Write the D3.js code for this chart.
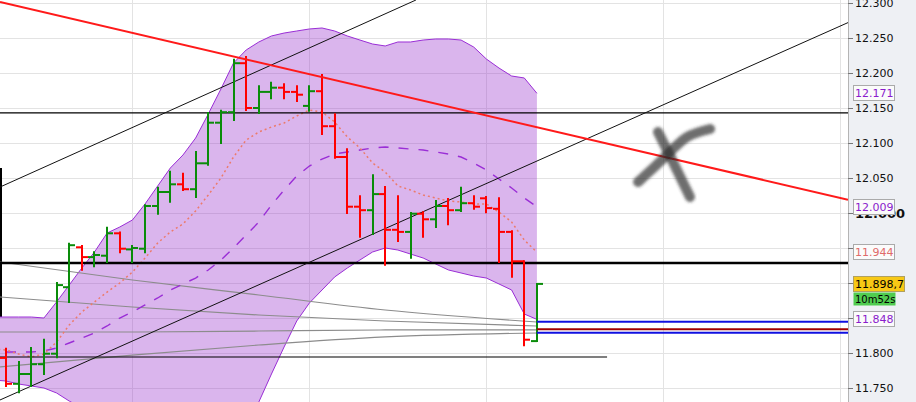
<!DOCTYPE html>
<html><head><meta charset="utf-8">
<script src="https://cdn.jsdelivr.net/npm/d3@7"></script>
<style>html,body{margin:0;padding:0;background:#fff;overflow:hidden}svg{display:block}</style>
</head><body>
<svg id="c" width="916" height="402"></svg>
<script>
// ---------- DATA ----------
const opens  = [11.793,11.756,11.770,11.784,11.799,11.894,11.951,11.937,11.939,11.971,11.948,11.949,12.010,12.030,12.041,12.034,12.071,12.129,12.144,12.214,12.150,12.173,12.179,12.173,12.153,12.174,12.124,12.080,12.009,12.004,12.027,11.976,11.973,11.999,11.991,12.010,12.004,12.014,12.021,12.006,11.973,11.931,11.817];
const highs  = [11.806,11.787,11.807,11.819,11.900,11.956,11.953,11.944,11.979,11.972,11.953,12.011,12.036,12.059,12.056,12.087,12.143,12.146,12.219,12.223,12.181,12.186,12.184,12.181,12.181,12.197,12.141,12.091,12.024,12.054,12.037,12.024,12.000,12.001,12.017,12.020,12.036,12.024,12.023,12.021,11.974,11.931,11.8987];
const lows   = [11.753,11.744,11.753,11.770,11.794,11.873,11.919,11.924,11.930,11.944,11.930,11.944,11.999,12.016,12.033,12.023,12.069,12.100,12.133,12.147,12.143,12.164,12.164,12.160,12.146,12.113,12.079,12.000,11.966,11.970,11.926,11.960,11.936,11.966,11.980,11.984,12.003,12.006,12.001,11.930,11.909,11.811,11.817];
const closes = [11.756,11.770,11.784,11.799,11.897,11.954,11.937,11.940,11.971,11.949,11.950,12.010,12.030,12.041,12.034,12.071,12.129,12.144,12.214,12.150,12.173,12.179,12.173,12.169,12.174,12.124,12.080,12.009,12.004,12.027,11.976,11.973,11.999,11.991,12.010,12.004,12.014,12.009,12.007,11.973,11.931,11.819,11.8987];

// indicator series start one bar earlier (bar index -1, off the left edge)
const indStart = -1;
const bandUpper = [11.8514,11.8514,11.8514,11.8514,11.85,11.8729,11.8971,11.9214,11.9443,11.9714,11.98,11.99,12.0129,12.0386,12.0643,12.0829,12.1071,12.1414,12.1771,12.2143,12.2329,12.2443,12.2529,12.2571,12.26,12.2629,12.2643,12.26,12.2529,12.2471,12.2414,12.2386,12.2443,12.2443,12.2471,12.2486,12.2486,12.2471,12.2371,12.22,12.2071,12.1957,12.1929,12.171];
const bandMid   = [11.8014,11.8014,11.8014,11.8014,11.8029,11.8071,11.8143,11.8214,11.8286,11.8386,11.85,11.8586,11.8686,11.8786,11.89,11.8986,11.9071,11.9186,11.9329,11.95,11.9686,11.9871,12.0114,12.0329,12.0529,12.0671,12.0771,12.0843,12.0871,12.09,12.0929,12.0943,12.0929,12.0914,12.09,12.0871,12.0843,12.08,12.0714,12.0614,12.0486,12.0357,12.0214,12.009];
const bandLower = [11.7614,11.76,11.7557,11.7529,11.75,11.7429,11.7314,11.7214,11.7129,11.7057,11.72,11.7271,11.7243,11.72,11.7157,11.7143,11.7071,11.6957,11.6886,11.6857,11.7043,11.73,11.77,11.8086,11.8457,11.8714,11.89,11.9086,11.9214,11.9329,11.9443,11.95,11.9471,11.9414,11.9357,11.9271,11.9186,11.9143,11.91,11.9071,11.8986,11.89,11.8557,11.848];
const emaFast   = [11.8057,11.8043,11.7986,11.7943,11.7986,11.8157,11.84,11.8586,11.8729,11.8871,11.9,11.9157,11.9357,11.9571,11.9729,11.9843,12.0029,12.0257,12.05,12.08,12.1043,12.1157,12.1229,12.1286,12.1386,12.1471,12.1443,12.13,12.1086,12.0929,12.0714,12.0586,12.0386,12.0329,12.0257,12.0214,12.0171,12.0157,12.0129,12.0129,12.0014,11.9871,11.9614,11.944];

// long moving averages (sampled at bar index)
const grayIdx = [-0.475,10,20,30,42];
const gray1 = [11.93,11.9043,11.8829,11.8614,11.8443];
const gray2 = [11.88,11.8657,11.8543,11.8457,11.8386];
const gray3 = [11.83,11.83,11.8314,11.8329,11.8329];
const gray4 = [11.78,11.7971,11.8114,11.8229,11.8286];

// drawn objects (bar index, price)
const trendRed      = [[-0.475,12.3014],[66.61,12.019]];
const channelUpper  = [[-0.475,12.0371],[32.43,12.3043]];
const channelLower  = [[-0.475,11.7329],[66.61,12.272]];
const levelThin  = 12.143;
const levelThick = 11.9286;
const levelLow   = 11.7943, levelLowEnd = 47.55;
const leftMarker = [12.0643, 11.8514];
const lastLevels = [11.8447, 11.8339, 11.829];
const xMark1 = [[51.58,12.1157],[52.69,12.0757],[54.11,12.0229]];
const xMark2 = [[50.0,12.0443],[52.29,12.0829],[53.88,12.1086],[55.70,12.12]];

const tickValues = [11.75,11.80,11.85,11.90,11.95,12.00,12.05,12.10,12.15,12.20,12.25,12.30];
const tickLabels = ["11.750","11.800","11.850","11.900","11.950","12.000","12.050","12.100","12.150","12.200","12.250","12.300"];
const hiddenTicks = [11.85, 11.90, 11.95]; // covered by value boxes in the original
const gridIdx = [10,24,38,52,66];

const priceNow = 11.8987, priceNowLabel = "11.898,7", timerLabel = "10m52s";

// ---------- CHART ----------
const W = 916, H = 402, PW = 848;
const svg = d3.select("#c");
const x = d3.scaleLinear().domain([-0.475, 66.61]).range([0, PW]);
const y = d3.scaleLinear().domain([11.73, 12.30429]).range([H, 0]);
const idx = d3.range(opens.length);
const ind = d3.range(bandUpper.length); // j -> bar index j+indStart

const defs = svg.append("defs");
defs.append("clipPath").attr("id","plot").append("rect").attr("x",0).attr("y",0).attr("width",PW).attr("height",H);
defs.append("filter").attr("id","blur").attr("x","-20%").attr("y","-20%").attr("width","140%").attr("height","140%")
  .append("feGaussianBlur").attr("stdDeviation",1.4);

const g = svg.append("g").attr("clip-path","url(#plot)");

// grid
g.selectAll(".hg").data(tickValues).join("line")
  .attr("x1",0).attr("x2",PW).attr("y1",d=>Math.round(y(d))+0.5).attr("y2",d=>Math.round(y(d))+0.5)
  .attr("stroke","#e3e3e3").attr("stroke-width",1);
g.selectAll(".vg").data(gridIdx).join("line")
  .attr("y1",0).attr("y2",H).attr("x1",d=>Math.round(x(d))+0.5).attr("x2",d=>Math.round(x(d))+0.5)
  .attr("stroke","#e3e3e3").attr("stroke-width",1);

// left marker
g.append("line").attr("x1",1).attr("x2",1).attr("y1",y(leftMarker[0])).attr("y2",y(leftMarker[1]))
  .attr("stroke","#000").attr("stroke-width",2);

// band
const bx = j => x(j + indStart);
g.append("path").datum(ind)
  .attr("d", d3.area().x(bx).y0(j=>y(bandLower[j])).y1(j=>y(bandUpper[j])))
  .attr("fill","#9933cc").attr("fill-opacity",0.36);
const ln = arr => d3.line().x(bx).y(j=>y(arr[j]));
g.append("path").datum(ind).attr("d", ln(bandUpper)).attr("fill","none").attr("stroke","#9a2ed6").attr("stroke-width",1);
g.append("path").datum(ind).attr("d", ln(bandLower)).attr("fill","none").attr("stroke","#9a2ed6").attr("stroke-width",1);

// gray MAs
[gray1,gray2,gray3,gray4].forEach(arr=>{
  g.append("path").datum(grayIdx.map((k,j)=>[k,arr[j]]))
   .attr("d", d3.line().x(d=>x(d[0])).y(d=>y(d[1])).curve(d3.curveMonotoneX))
   .attr("fill","none").attr("stroke","#8c8c8c").attr("stroke-width",1.2);
});

// mid dashed & ema dotted
g.append("path").datum(ind.slice(1)).attr("d", ln(bandMid)).attr("fill","none")
  .attr("stroke","#9a2ed6").attr("stroke-width",1.4).attr("stroke-dasharray","10,10");
g.append("path").datum(ind).attr("d", ln(emaFast)).attr("fill","none")
  .attr("stroke","#ec7b6b").attr("stroke-width",1.5).attr("stroke-dasharray","2,3");

// horizontal levels
g.append("line").attr("x1",0).attr("x2",PW).attr("y1",y(levelThin)).attr("y2",y(levelThin)).attr("stroke","#000").attr("stroke-width",1.2);
g.append("line").attr("x1",0).attr("x2",PW).attr("y1",y(levelThick)).attr("y2",y(levelThick)).attr("stroke","#000").attr("stroke-width",2.5);
g.append("line").attr("x1",0).attr("x2",x(levelLowEnd)).attr("y1",y(levelLow)).attr("y2",y(levelLow)).attr("stroke","#000").attr("stroke-width",1.2);

// channel lines
const seg = d3.line().x(d=>x(d[0])).y(d=>y(d[1]));
g.append("path").datum(channelUpper).attr("d",seg).attr("stroke","#111").attr("stroke-width",1).attr("fill","none");
g.append("path").datum(channelLower).attr("d",seg).attr("stroke","#111").attr("stroke-width",1).attr("fill","none");

// bars
const bars = g.append("g");
idx.forEach(i=>{
  const col = closes[i] >= opens[i] ? "#0a8c0a" : "#ff0000";
  const cx = Math.round(x(i));
  bars.append("line").attr("x1",cx).attr("x2",cx).attr("y1",y(highs[i])-1).attr("y2",y(lows[i])+1).attr("stroke",col).attr("stroke-width",2);
  bars.append("line").attr("x1",cx-6).attr("x2",cx).attr("y1",y(opens[i])).attr("y2",y(opens[i])).attr("stroke",col).attr("stroke-width",2);
  bars.append("line").attr("x1",cx).attr("x2",cx+6).attr("y1",y(closes[i])).attr("y2",y(closes[i])).attr("stroke",col).attr("stroke-width",2);
});

// red trend
g.append("path").datum(trendRed).attr("d",seg).attr("stroke","#ff1a1a").attr("stroke-width",2).attr("fill","none");

// last levels
const lastCols = ["#1010e0","#a00000","#1010e0"];
lastLevels.forEach((v,j)=>{
  g.append("line").attr("x1",x(idx.length-1)).attr("x2",PW).attr("y1",y(v)).attr("y2",y(v))
   .attr("stroke",lastCols[j]).attr("stroke-width",2);
});

// X mark
const curv = d3.line().x(d=>x(d[0])).y(d=>y(d[1])).curve(d3.curveNatural);
[xMark1,xMark2].forEach(m=>{
  g.append("path").datum(m).attr("d",curv).attr("fill","none").attr("stroke","#2a2a2a")
   .attr("stroke-opacity",0.68).attr("stroke-width",10).attr("stroke-linecap","round").attr("filter","url(#blur)");
});

// ---------- AXIS ----------
svg.append("rect").attr("x",PW+1).attr("y",0).attr("width",W-PW-1).attr("height",H).attr("fill","#eef0f4");
svg.append("line").attr("x1",PW+0.5).attr("x2",PW+0.5).attr("y1",0).attr("y2",H).attr("stroke","#b4b4b4");
const ax = svg.append("g").attr("transform",`translate(${PW},0)`)
  .call(d3.axisRight(y).tickValues(tickValues).tickSize(5).tickPadding(2)
    .tickFormat((d,i)=> hiddenTicks.includes(d) ? "" : tickLabels[i]));
ax.select(".domain").remove();
ax.selectAll("line").attr("stroke","#777");
ax.selectAll("text").attr("font-family","DejaVu Sans").attr("font-size",11).attr("fill","#111");
ax.selectAll("text").filter(d=>d===12.00).attr("font-size",13).attr("font-weight","bold");

// labels
function box(v, text, opts){
  const yc = Math.round(y(v));
  const w = opts.w || 41, h = 15;
  svg.append("rect").attr("x",853.5).attr("y",yc-7.5).attr("width",w).attr("height",h)
    .attr("fill",opts.bg||"#fbfbfb").attr("stroke",opts.border||"#aaaaaa").attr("stroke-width",1);
  svg.append("text").attr("x",855).attr("y",yc).attr("dy","0.36em").text(text)
    .attr("font-family","DejaVu Sans").attr("font-size",opts.fs||11).attr("fill",opts.color||"#000");
}
const last = a => a[a.length-1];
box(last(bandUpper), last(bandUpper).toFixed(3), {color:"#8a1ccc"});
box(last(bandMid), last(bandMid).toFixed(3), {color:"#8a1ccc"});
box(last(emaFast), last(emaFast).toFixed(3), {color:"#e06a6a"});
box(last(bandLower), last(bandLower).toFixed(3), {color:"#8a1ccc"});
box(priceNow, priceNowLabel, {bg:"#f7c815", border:"#b0a060", w:51});
// timer
{
  const yc = Math.round(y(priceNow)) + 15;
  svg.append("rect").attr("x",853.5).attr("y",yc-6.5).attr("width",42).attr("height",13).attr("fill","#50cc50");
  svg.append("text").attr("x",855).attr("y",yc).attr("dy","0.36em").text(timerLabel)
    .attr("font-family","DejaVu Sans").attr("font-size",10).attr("fill","#000");
}
</script>
</body></html>
